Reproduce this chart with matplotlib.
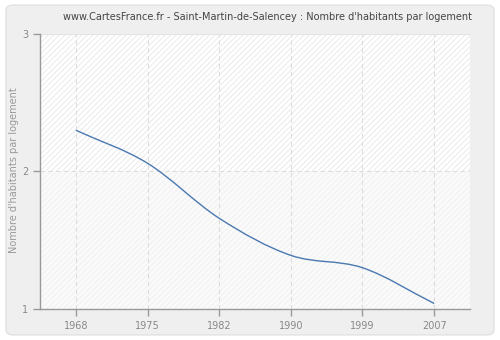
import numpy as np
import matplotlib
matplotlib.use("Agg")
import matplotlib.pyplot as plt
from matplotlib.path import Path
from matplotlib.patches import PathPatch, FancyBboxPatch, Rectangle

years = ["1968", "1975", "1982", "1990", "1999", "2007"]
values = [2.30, 2.06, 1.66, 1.39, 1.30, 1.04]
y_ticks = [1, 2, 3]

title = "www.CartesFrance.fr - Saint-Martin-de-Salencey : Nombre d'habitants par logement"
ylabel = "Nombre d'habitants par logement"

plt.rcParams["hatch.linewidth"] = 0.5

fig = plt.figure(figsize=(5, 3.4), dpi=100, facecolor="white")
frame = FancyBboxPatch((0.012, 0.015), 0.976, 0.97, boxstyle="round,pad=0,rounding_size=0.015",
                       transform=fig.transFigure, facecolor="#efefef", edgecolor="#e2e2e2",
                       linewidth=1.0, zorder=-10)
fig.patches.append(frame)

ax = fig.add_axes([0.08, 0.0912, 0.86, 0.8088])
ax.set_zorder(1)
ax.set_facecolor("white")
x = np.arange(len(years))
ax.set_xlim(-0.5, len(years) - 0.5)
ax.set_ylim(1, 3)

# hatched backdrop: stronger above the middle line, fainter below
ax.add_patch(Rectangle((-0.5, 2), len(years), 1, facecolor="white", edgecolor="#e3e3e3",
                       hatch="//////", linewidth=0, zorder=0))
ax.add_patch(Rectangle((-0.5, 1), len(years), 1, facecolor="#fafafa", edgecolor="#eeeeee",
                       hatch="//////", linewidth=0, zorder=0))

for xi in x:
    ax.axvline(xi, color="#dddddd", linestyle=(0, (4, 3)), linewidth=0.8, zorder=1)
ax.axhline(2, color="#dddddd", linestyle=(0, (4, 3)), linewidth=0.8, zorder=1)
ax.axhline(3, color="#e4e4e4", linewidth=0.8, zorder=1)

# smooth curve through the data points (cubic Hermite, Catmull-Rom tangents)
v = np.array(values, dtype=float)
n = len(v)
t = np.zeros(n)
t[1:-1] = (v[2:] - v[:-2]) / 2.0
t[0] = v[1] - v[0]
t[-1] = v[-1] - v[-2]
verts = [(x[0], v[0])]
codes = [Path.MOVETO]
for i in range(n - 1):
    verts += [(x[i] + 1 / 3, v[i] + t[i] / 3), (x[i + 1] - 1 / 3, v[i + 1] - t[i + 1] / 3), (x[i + 1], v[i + 1])]
    codes += [Path.CURVE4] * 3
ax.add_patch(PathPatch(Path(verts, codes), facecolor="none", edgecolor="#4a78b0", linewidth=1.0, zorder=3))

ax.set_xticks(x)
ax.set_xticklabels(years)
ax.set_yticks(y_ticks)
ax.set_yticklabels([str(t_) for t_ in y_ticks])
for s in ["top", "right"]:
    ax.spines[s].set_visible(False)
for s in ["left", "bottom"]:
    ax.spines[s].set_color("#999999")
    ax.spines[s].set_linewidth(1.0)
ax.tick_params(colors="#999999", labelcolor="#888888", labelsize=7, length=5, width=1.0, direction="out")
fig.text(0.028, 0.5, ylabel, rotation=90, ha="center", va="center", fontsize=7, color="#999999")
fig.text(0.535, 0.95, title, ha="center", va="center", fontsize=7, color="#444444")

fig.savefig("out.png", dpi=100, facecolor="white")
